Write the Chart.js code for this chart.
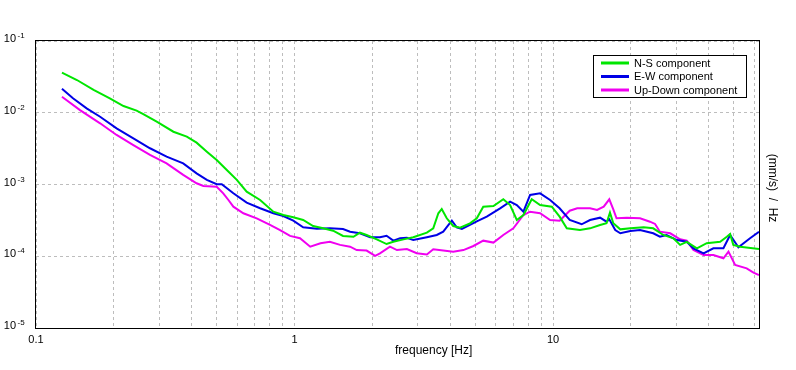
<!DOCTYPE html>
<html>
<head>
<meta charset="utf-8">
<script src="https://cdn.jsdelivr.net/npm/chart.js@4.4.1/dist/chart.umd.min.js"></script>
<style>
html,body{margin:0;padding:0;background:#fff;}
canvas{display:block;}
</style>
</head>
<body>
<canvas id="c" width="796" height="370"></canvas>
<script>
// ---- data (frequency in Hz, PSD in (mm/s)/Hz) ----
const seriesLabels = ['N-S component', 'E-W component', 'Up-Down component'];
const seriesColors = ['#00e600', '#0000e6', '#f000f0'];

const nsFreq = [0.126,0.144,0.167,0.193,0.218,0.245,0.260,0.293,0.340,0.383,0.418,0.458,0.500,0.547,0.598,0.653,0.736,0.828,0.905,0.989,1.08,1.18,1.29,1.41,1.54,1.69,1.79,1.90,2.08,2.27,2.41,2.64,2.88,3.25,3.44,3.60,3.71,3.88,4.11,4.37,4.77,5.07,5.37,5.88,6.42,6.82,7.24,7.68,8.27,8.91,9.89,10.6,11.3,12.7,13.9,15.2,16.1,16.6,17.1,18.2,19.9,22.4,24.4,26.7,29.2,31.0,32.9,36.0,39.3,44.3,47.0,48.4,49.8,52.9,62.6];
const nsVal = [0.0362,0.0286,0.0208,0.0159,0.0124,0.0107,0.0096,0.0075,0.00544,0.00464,0.00383,0.00287,0.0022,0.00159,0.00116,0.000794,0.000608,0.000418,0.000376,0.000349,0.00032,0.000264,0.000245,0.000227,0.000192,0.000187,0.000213,0.000198,0.000172,0.000148,0.000159,0.000172,0.000184,0.000213,0.000245,0.000397,0.000456,0.000338,0.000264,0.00025,0.000288,0.000338,0.000491,0.000502,0.000622,0.000518,0.00032,0.000376,0.000622,0.000518,0.000491,0.000356,0.000245,0.000232,0.000245,0.000273,0.000288,0.000405,0.000288,0.000237,0.000245,0.000253,0.000245,0.000198,0.000178,0.000144,0.000159,0.000129,0.000152,0.000159,0.000187,0.000204,0.000144,0.000136,0.000126];

const ewFreq = [0.126,0.139,0.157,0.177,0.205,0.238,0.276,0.320,0.371,0.418,0.458,0.500,0.523,0.580,0.653,0.736,0.828,0.905,0.989,1.08,1.22,1.37,1.54,1.64,1.79,1.96,2.14,2.27,2.41,2.56,2.72,2.88,3.25,3.55,3.76,3.94,4.06,4.24,4.44,4.77,5.07,5.54,6.24,6.82,7.24,7.68,8.15,8.91,9.74,10.6,11.6,12.9,13.9,15.2,16.1,16.5,17.4,18.2,19.9,21.7,24.4,25.9,27.5,30.1,32.9,34.9,38.2,41.7,45.6,48.4,52.1,57.8,62.6];
const ewVal = [0.0216,0.0159,0.0115,0.0088,0.00607,0.0044,0.0032,0.00244,0.00197,0.00143,0.00116,0.00101,0.00101,0.000754,0.000558,0.000466,0.000397,0.000364,0.000313,0.000253,0.000242,0.000245,0.00024,0.00022,0.000209,0.000184,0.000184,0.000193,0.000165,0.000178,0.000181,0.000168,0.000184,0.000198,0.00022,0.000273,0.000313,0.000253,0.00024,0.000273,0.000307,0.000356,0.000466,0.000576,0.000518,0.000418,0.000714,0.000754,0.000608,0.000466,0.00032,0.000279,0.00032,0.000345,0.000303,0.000327,0.000232,0.000209,0.000225,0.000232,0.000209,0.000187,0.000198,0.000168,0.000159,0.000129,0.00011,0.000129,0.000129,0.000198,0.000133,0.000178,0.00022];

const udFreq = [0.126,0.148,0.177,0.205,0.238,0.276,0.320,0.371,0.418,0.444,0.500,0.530,0.555,0.580,0.634,0.714,0.804,0.879,0.961,1.05,1.15,1.26,1.37,1.50,1.64,1.74,1.90,2.05,2.14,2.34,2.49,2.72,2.97,3.25,3.44,3.76,4.11,4.50,4.92,5.37,5.88,6.42,7.02,7.68,8.15,8.91,9.74,10.6,11.6,12.4,13.9,14.8,15.7,16.5,17.1,17.6,19.3,21.7,23.7,24.8,25.9,28.4,31.0,32.9,34.9,38.2,41.7,45.6,47.7,50.6,56.1,59.6,62.6];
const udVal = [0.0167,0.0109,0.00713,0.0049,0.00355,0.00258,0.00197,0.00136,0.00104,0.000953,0.000932,0.000754,0.000608,0.000491,0.000397,0.000338,0.000273,0.000232,0.000192,0.000178,0.000136,0.000152,0.000159,0.000144,0.000136,0.000122,0.00012,0.000101,0.00011,0.000136,0.000122,0.000126,0.00011,0.000106,0.000125,0.00012,0.000116,0.000122,0.000139,0.000165,0.000155,0.000198,0.000245,0.000376,0.000418,0.000397,0.00032,0.000313,0.000431,0.000466,0.000466,0.000441,0.000491,0.000622,0.000451,0.000338,0.000345,0.000338,0.000303,0.000282,0.00022,0.000209,0.000172,0.000165,0.000122,0.000104,0.000104,0.0000937,0.000116,0.0000755,0.0000679,0.000059,0.0000548];

const xMin = 0.1, xMax = 62.6;
const yMin = 1e-5, yMax = 1e-1;
const xTickValues = [0.1,0.2,0.3,0.4,0.5,0.6,0.7,0.8,0.9,1,2,3,4,5,6,7,8,9,10,20,30,40,50,60];
const xTickLabels = {0.1:'0.1', 1:'1', 10:'10'};
const yTickExponents = [-5,-4,-3,-2,-1];
const xTitle = 'frequency [Hz]';
const yTitle = '(mm/s)  /  Hz';

// ---- chart ----
const FONT = '"Liberation Sans", Arial, sans-serif';
function pts(fx, fy){ return fx.map((f,i)=>({x:f, y:fy[i]})); }

const decor = {
  id: 'decor',
  afterDraw(chart){
    const ctx = chart.ctx, a = chart.chartArea;
    const ys = chart.scales.y;
    ctx.save();
    // plot frame
    ctx.strokeStyle = '#000'; ctx.lineWidth = 1; ctx.setLineDash([]);
    ctx.strokeRect(Math.round(a.left)-0.5, Math.round(a.top)-0.5, Math.round(a.right-a.left)+1, Math.round(a.bottom-a.top)+1);
    // y tick labels 10^n
    ctx.fillStyle = '#000';
    yTickExponents.forEach(e=>{
      const y = ys.getPixelForValue(Math.pow(10,e));
      ctx.font = '11px ' + FONT;
      ctx.textAlign = 'right'; ctx.textBaseline = 'alphabetic';
      ctx.fillText('10', 16, y + 1);
      ctx.font = '8px ' + FONT;
      ctx.textAlign = 'left';
      ctx.fillText(String(e), 17.5, y - 3);
    });
    // x title
    ctx.font = '12px ' + FONT;
    ctx.textAlign = 'left'; ctx.textBaseline = 'alphabetic';
    ctx.fillText(xTitle, 395, 354);
    // y title (right, rotated clockwise)
    ctx.save();
    ctx.translate(769, 188);
    ctx.rotate(Math.PI/2);
    ctx.textAlign = 'center'; ctx.textBaseline = 'alphabetic';
    ctx.fillText(yTitle, 0, 0);
    ctx.restore();
    // legend
    const lx = 593.5, ly = 55.5, lw = 153, lh = 42;
    ctx.fillStyle = '#fff';
    ctx.fillRect(lx, ly, lw, lh);
    ctx.strokeStyle = '#000'; ctx.lineWidth = 1;
    ctx.strokeRect(lx, ly, lw, lh);
    ctx.font = '11px ' + FONT;
    ctx.textBaseline = 'middle'; ctx.textAlign = 'left';
    chart.data.datasets.forEach((ds,i)=>{
      const yy = 63 + i*13.5;
      ctx.strokeStyle = ds.borderColor; ctx.lineWidth = 3;
      ctx.beginPath(); ctx.moveTo(601, yy); ctx.lineTo(629, yy); ctx.stroke();
      ctx.fillStyle = '#000';
      ctx.fillText(ds.label, 634, yy + 0.5);
    });
    ctx.restore();
  }
};

new Chart(document.getElementById('c'), {
  type: 'line',
  data: {
    datasets: [
      {label: seriesLabels[0], data: pts(nsFreq, nsVal), borderColor: seriesColors[0]},
      {label: seriesLabels[1], data: pts(ewFreq, ewVal), borderColor: seriesColors[1]},
      {label: seriesLabels[2], data: pts(udFreq, udVal), borderColor: seriesColors[2]}
    ].map(d=>Object.assign(d,{borderWidth:2, pointRadius:0, tension:0, fill:false}))
  },
  options: {
    responsive: false,
    devicePixelRatio: 1,
    animation: false,
    layout: {padding: {top: 41, left: 0, right: 0, bottom: 0}},
    plugins: {legend: {display: false}, tooltip: {enabled: false}},
    scales: {
      x: {
        type: 'logarithmic', min: xMin, max: xMax,
        afterBuildTicks: s => { s.ticks = xTickValues.map(v=>({value:v})); },
        afterFit: s => { s.height = 42; },
        grid: {color: '#bdbdbd', lineWidth: 1, drawTicks: false},
        border: {display: false, dash: [3,3]},
        ticks: {
          autoSkip: false, maxRotation: 0, padding: 5,
          color: '#000', font: {family: FONT, size: 11},
          callback: v => xTickLabels[v] || ''
        }
      },
      y: {
        type: 'logarithmic', min: yMin, max: yMax,
        afterBuildTicks: s => { s.ticks = yTickExponents.map(e=>({value:Math.pow(10,e)})); },
        afterFit: s => { s.width = 36; },
        grid: {color: '#bdbdbd', lineWidth: 1, drawTicks: false},
        border: {display: false, dash: [3,3]},
        ticks: {display: false}
      },
      y2: {
        type: 'linear', position: 'right', min: 0, max: 1,
        afterFit: s => { s.width = 37; },
        grid: {display: false, drawTicks: false},
        border: {display: false},
        ticks: {display: false}
      }
    }
  },
  plugins: [decor]
});
</script>
</body>
</html>
